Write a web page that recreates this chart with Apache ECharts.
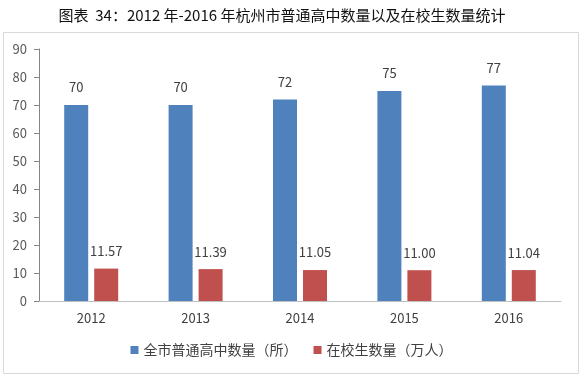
<!DOCTYPE html>
<html><head><meta charset="utf-8">
<script src="https://cdn.jsdelivr.net/npm/echarts@6/dist/echarts.min.js"></script>
<style>html,body{margin:0;padding:0;background:#fff}#c{width:583px;height:380px}</style>
</head><body><div id="c"></div>
<script>
var categories = ['2012','2013','2014','2015','2016'];
var schools = [70, 70, 72, 75, 77];
var students = [11.57, 11.39, 11.05, 11.00, 11.04];
var yTicks = [0,10,20,30,40,50,60,70,80,90];
var font = '"Noto Sans CJK SC", "Microsoft YaHei", sans-serif';
var chart = echarts.init(document.getElementById('c'), null, {renderer:'canvas'});
chart.setOption({
  backgroundColor:'#fff',
  animation:false,
  title:{text:'图表  34：2012 年-2016 年杭州市普通高中数量以及在校生数量统计', left:277, textAlign:'center', top:3,
    textStyle:{fontFamily:font, fontSize:15, fontWeight:'normal', color:'#111'}},
  graphic:[{type:'rect', shape:{x:3.5,y:32.5,width:575,height:341}, style:{fill:'none', stroke:'#d9d9d9', lineWidth:1}, z:-1}],
  grid:{left:39, right:22, top:49, bottom:79},
  legend:{bottom:18, left:'center', itemWidth:8, itemHeight:8, itemGap:16, icon:'rect',
    textStyle:{fontFamily:font, fontSize:14, color:'#404040'}},
  xAxis:{type:'category', data:categories,
    axisLine:{lineStyle:{color:'#bfbfbf'}}, axisTick:{show:false},
    axisLabel:{fontFamily:font, fontSize:13, color:'#404040', margin:11}},
  yAxis:{type:'value', min:0, max:90, interval:10,
    axisLine:{show:true, lineStyle:{color:'#868686'}},
    axisTick:{show:true, length:5, lineStyle:{color:'#868686'}},
    splitLine:{show:false},
    axisLabel:{fontFamily:font, fontSize:13, color:'#595959', margin:12,
      formatter:function(v){return yTicks.indexOf(v)>=0?String(v):'';}}},
  series:[
    {name:'全市普通高中数量（所）', type:'bar', data:schools, barWidth:24, barGap:'25%',
     itemStyle:{color:'#4f81bd'},
     label:{show:true, position:'top', distance:11, fontFamily:font, fontSize:13, color:'#404040'}},
    {name:'在校生数量（万人）', type:'bar', data:students, barWidth:24,
     itemStyle:{color:'#c0504d'},
     label:{show:true, position:'top', distance:11, fontFamily:font, fontSize:13, color:'#404040',
       formatter:function(p){return p.value.toFixed(2);}}}
  ]
});
</script></body></html>
